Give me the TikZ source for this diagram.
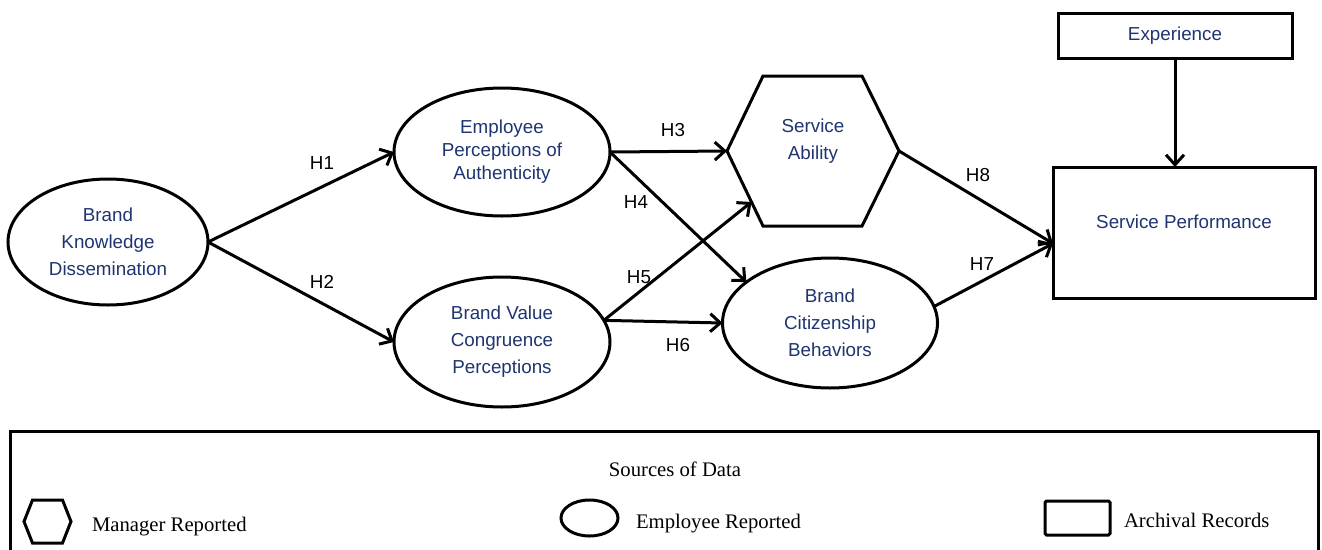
\documentclass[tikz,border=0pt]{standalone}
\usepackage{fontspec}
\setmainfont{Liberation Serif}
\newfontfamily\diagsans{Liberation Sans}
\usetikzlibrary{shapes.geometric,arrows.meta,calc}
\definecolor{constructblue}{RGB}{31,52,112}
\begin{document}
\begin{tikzpicture}[x=1pt,y=-1pt,
  every node/.style={inner sep=0pt,outer sep=0pt},
  outline/.style={draw,line width=3pt},
  construct/.style={outline,ellipse,align=center,text=constructblue,
    font=\diagsans\fontsize{18.8}{27}\selectfont},
  boxnode/.style={outline,rectangle,align=center,text=constructblue,
    font=\diagsans\fontsize{18.8}{27}\selectfont},
  constructtext/.style={align=center,text=constructblue,
    font=\diagsans\fontsize{18.8}{27}\selectfont},
  hyp/.style={font=\diagsans\fontsize{18.8}{22}\selectfont},
  path/.style={line width=3pt,-{Straight Barb[length=10pt,width=18pt]}},
  legendtext/.style={anchor=base west,font=\fontsize{20.7}{25}\selectfont}
]
\useasboundingbox (0,0) rectangle (1322,549);
\clip (0,0) rectangle (1322,549);

% --- constructs ---
\node[construct,minimum width=200pt,minimum height=126pt] (bkd) at (108,242)
  {Brand\\Knowledge\\Dissemination};
\node[construct,minimum width=216pt,minimum height=128pt,
  font=\diagsans\fontsize{18.8}{23}\selectfont] (epa) at (502,152)
  {Employee\\Perceptions of\\Authenticity};
\node[construct,minimum width=216pt,minimum height=130pt] (bvc) at (502,342)
  {Brand Value\\Congruence\\Perceptions};
\node[construct,minimum width=215pt,minimum height=130pt] (bcb) at (830,323)
  {Brand\\Citizenship\\Behaviors};

% service ability (hexagon)
\coordinate (hexL)  at (727,151);
\coordinate (hexTL) at (763,76);
\coordinate (hexTR) at (862,76);
\coordinate (hexR)  at (899,151);
\coordinate (hexBR) at (862,226);
\coordinate (hexBL) at (763,226);
\draw[outline,line join=miter] (hexL) -- (hexTL) -- (hexTR) -- (hexR)
  -- (hexBR) -- (hexBL) -- cycle;
\node[constructtext] (sa) at (813,141) {Service\\Ability};

% archival measures
\node[boxnode,minimum width=234pt,minimum height=45pt] (exp) at (1175,35.5) {Experience};
\node[outline,minimum width=262pt,minimum height=131pt] (sp) at (1184,232.5) {};
\node[constructtext] (sptext) at (1184,222) {Service Performance};
\coordinate (spin) at ([yshift=-11pt]sp.west);
\coordinate (saedge) at ($(hexL)!0.68!(hexBL)$);

% --- hypothesised paths ---
\draw[path] (bkd.east) -- (epa.west);
\draw[path] (bkd.east) -- (bvc.west);
\draw[path] (epa.east) -- (hexL);
\draw[path] (epa.east) -- (bcb.154);
\draw[path] (bvc.12) -- (saedge);
\draw[path] (bvc.12) -- (bcb.west);
\draw[path] (hexR) -- (spin);
\draw[path] (bcb.9) -- (spin);
\draw[path] (exp.south) -- (exp.south |- sp.north);

\node[hyp] (h1) at (322,163) {H1};
\node[hyp] (h2) at (322,282) {H2};
\node[hyp] (h3) at (673,130) {H3};
\node[hyp] (h4) at (636,202) {H4};
\node[hyp] (h5) at (639,277) {H5};
\node[hyp] (h6) at (678,345) {H6};
\node[hyp] (h8) at (978,175) {H8};
\node[hyp] (h7) at (982,264) {H7};

% --- legend ---
\draw[outline] (10,431) rectangle (1318,580);
\node[anchor=base,font=\fontsize{20.7}{25}\selectfont] (srctitle) at (675,476) {Sources of Data};

\coordinate (lhL)  at (24,521.5);
\coordinate (lhTL) at (32.5,500);
\coordinate (lhTR) at (62.5,500);
\coordinate (lhR)  at (71,521.5);
\coordinate (lhBR) at (62.5,543);
\coordinate (lhBL) at (32.5,543);
\draw[outline,line join=miter] (lhL) -- (lhTL) -- (lhTR) -- (lhR) -- (lhBR) -- (lhBL) -- cycle;
\node[legendtext] (mgr) at (92,531) {Manager Reported};

\node[outline,ellipse,minimum width=57pt,minimum height=36pt] (lell) at (589.5,518) {};
\node[legendtext] (emp) at (636,528) {Employee Reported};

\node[outline,rectangle,rounded corners=1.5pt,minimum width=65pt,minimum height=34pt] (lrect) at (1077.5,518) {};
\node[legendtext] (arc) at (1124,527) {Archival Records};
\end{tikzpicture}
\end{document}
